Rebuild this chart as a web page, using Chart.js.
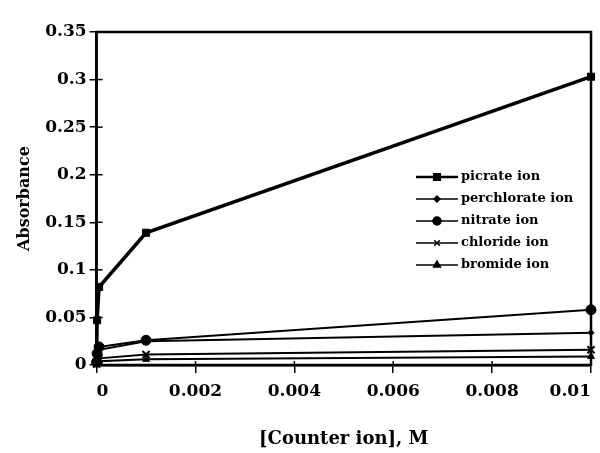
<!DOCTYPE html>
<html>
<head>
<meta charset="utf-8">
<script src="https://cdn.jsdelivr.net/npm/chart.js@4"></script>
<style>
  html, body { margin: 0; padding: 0; background: #fff; }
  #wrap { width: 600px; height: 453px; }
</style>
</head>
<body>
<div id="wrap"><canvas id="chart" width="600" height="453"></canvas></div>
<script>
// counter ion concentration (M)
var conc = [0, 0.00001, 0.00005, 0.001, 0.01];

var picrate     = [0.003, 0.047, 0.082, 0.139, 0.303];
var perchlorate = [0.002, 0.010, 0.016, 0.025, 0.034];
var nitrate     = [0.003, 0.012, 0.019, 0.026, 0.058];
var chloride    = [0.001, 0.004, 0.007, 0.011, 0.016];
var bromide     = [0.001, 0.002, 0.004, 0.006, 0.009];

var seriesNames = ['picrate ion', 'perchlorate ion', 'nitrate ion', 'chloride ion', 'bromide ion'];

var xTicks = [0, 0.002, 0.004, 0.006, 0.008, 0.01];
var yTicks = [0, 0.05, 0.1, 0.15, 0.2, 0.25, 0.3, 0.35];

var FONT = "'DejaVu Serif', 'Liberation Serif', serif";

function pts(ys) {
  return ys.map(function (y, i) { return { x: conc[i], y: y }; });
}

// 0.30 -> "0.3", 0.010 -> "0.01"
function fmt(v) { return String(+v.toFixed(4)); }

function ds(label, ys, style, radius, width) {
  return {
    label: label,
    data: pts(ys),
    borderColor: '#000',
    backgroundColor: '#000',
    borderWidth: width,
    pointStyle: style,
    pointRadius: radius,
    pointBorderWidth: style === 'crossRot' ? 2 : 1,
    pointBorderColor: '#000',
    pointBackgroundColor: '#000',
    tension: 0,
    fill: false,
    clip: false
  };
}

// box around the plot, inner half of tick marks, legend inside the plot
var framePlugin = {
  id: 'frame',
  afterDraw: function (chart) {
    var c = chart.ctx, a = chart.chartArea;
    var xs = chart.scales.x, ys = chart.scales.y;
    c.save();
    c.strokeStyle = '#000';
    c.lineWidth = 2.5;
    c.strokeRect(a.left, a.top, a.right - a.left, a.bottom - a.top);
    c.lineWidth = 1.5;
    xTicks.forEach(function (t) {
      var px = xs.getPixelForValue(t);
      c.beginPath(); c.moveTo(px, a.bottom); c.lineTo(px, a.bottom - 4); c.stroke();
    });
    yTicks.forEach(function (t) {
      var py = ys.getPixelForValue(t);
      c.beginPath(); c.moveTo(a.left, py); c.lineTo(a.left + 6, py); c.stroke();
    });

    // legend
    var lx = 416, ly = 177, gap = 22;
    c.font = 'bold 13px ' + FONT;
    c.textBaseline = 'middle';
    c.fillStyle = '#000';
    chart.data.datasets.forEach(function (d, i) {
      var y = ly + i * gap;
      c.lineWidth = i === 0 ? 2.5 : 1.5;
      c.beginPath(); c.moveTo(lx, y); c.lineTo(lx + 42, y); c.stroke();
      Chart.helpers.drawPoint(c, {
        pointStyle: d.pointStyle,
        radius: Math.min(d.pointRadius, 4),
        borderWidth: d.pointBorderWidth
      }, lx + 21, y);
      c.fillText(d.label, lx + 45, y);
    });
    c.restore();
  }
};

var ctx = document.getElementById('chart').getContext('2d');

var myChart = new Chart(ctx, {
  type: 'line',
  data: {
    datasets: [
      ds(seriesNames[0], picrate, 'rect', 5, 3.5),
      ds(seriesNames[1], perchlorate, 'rectRot', 3, 2),
      ds(seriesNames[2], nitrate, 'circle', 5, 2),
      ds(seriesNames[3], chloride, 'crossRot', 5, 2),
      ds(seriesNames[4], bromide, 'triangle', 4, 2)
    ]
  },
  options: {
    responsive: false,
    animation: false,
    layout: { padding: { left: 11, right: 9, top: 32, bottom: 3 } },
    plugins: {
      legend: { display: false },
      tooltip: { enabled: false }
    },
    scales: {
      x: {
        type: 'linear',
        min: 0,
        max: 0.01,
        afterBuildTicks: function (s) { s.ticks = xTicks.map(function (v) { return { value: v }; }); },
        ticks: {
          color: '#000',
          font: { family: FONT, size: 17, weight: 'bold' },
          padding: 8,
          maxRotation: 0,
          align: 'inner',
          callback: fmt
        },
        grid: { drawOnChartArea: false, drawTicks: true, tickLength: 8, color: '#000', lineWidth: 1.5 },
        border: { display: true, color: '#000', width: 2.5 },
        title: {
          display: true,
          text: '[Counter ion], M',
          color: '#000',
          font: { family: FONT, size: 18, weight: 'bold' },
          padding: { top: 19, bottom: 0 }
        }
      },
      y: {
        min: 0,
        max: 0.35,
        afterBuildTicks: function (s) { s.ticks = yTicks.map(function (v) { return { value: v }; }); },
        ticks: {
          color: '#000',
          font: { family: FONT, size: 17, weight: 'bold' },
          padding: 3,
          callback: fmt
        },
        grid: { drawOnChartArea: false, drawTicks: true, tickLength: 7, color: '#000', lineWidth: 1.5 },
        border: { display: true, color: '#000', width: 2.5 },
        title: {
          display: true,
          text: 'Absorbance',
          color: '#000',
          font: { family: FONT, size: 16, weight: 'bold' },
          padding: { top: 4, bottom: 8 }
        }
      }
    }
  },
  plugins: [framePlugin]
});
</script>
</body>
</html>
